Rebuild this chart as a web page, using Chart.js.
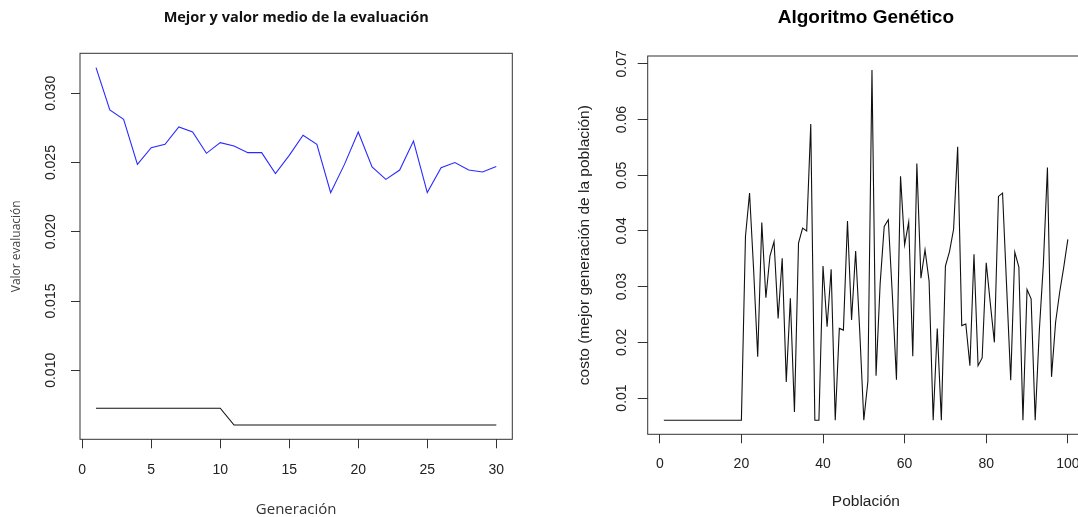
<!DOCTYPE html>
<html><head><meta charset="utf-8">
<script src="https://cdn.jsdelivr.net/npm/chart.js@4.4.0/dist/chart.umd.min.js"></script>
<style>
html,body{margin:0;padding:0;background:#fff;overflow:hidden;width:1078px;height:517px;}
#l{position:absolute;left:0;top:0;}
#r{position:absolute;left:540px;top:0;}
</style></head><body>
<canvas id="l" width="540" height="517"></canvas>
<canvas id="r" width="560" height="517"></canvas>
<script>
// ---- Left chart data ----
const generaciones = [1,2,3,4,5,6,7,8,9,10,11,12,13,14,15,16,17,18,19,20,21,22,23,24,25,26,27,28,29,30];
const valorMedio = [0.03186,0.02880,0.02812,0.02487,0.02608,0.02632,0.02757,0.02721,0.02567,0.02644,
                    0.02620,0.02572,0.02572,0.02420,0.02552,0.02697,0.02632,0.02283,0.02487,0.02721,
                    0.02468,0.02379,0.02446,0.02656,0.02283,0.02463,0.02500,0.02446,0.02432,0.02471];
const mejorValor = [0.00726,0.00726,0.00726,0.00726,0.00726,0.00726,0.00726,0.00726,0.00726,0.00726,
                    0.00605,0.00605,0.00605,0.00605,0.00605,0.00605,0.00605,0.00605,0.00605,0.00605,
                    0.00605,0.00605,0.00605,0.00605,0.00605,0.00605,0.00605,0.00605,0.00605,0.00605];
const ticksGenX = [0,5,10,15,20,25,30];
const ticksGenY = [0.010,0.015,0.020,0.025,0.030];
const ticksGenYLabels = ['0.010','0.015','0.020','0.025','0.030'];

// ---- Right chart data ----
const poblacion = [1,2,3,4,5,6,7,8,9,10,11,12,13,14,15,16,17,18,19,20,
  21,22,23,24,25,26,27,28,29,30,31,32,33,34,35,36,37,38,39,40,
  41,42,43,44,45,46,47,48,49,50,51,52,53,54,55,56,57,58,59,60,
  61,62,63,64,65,66,67,68,69,70,71,72,73,74,75,76,77,78,79,80,
  81,82,83,84,85,86,87,88,89,90,91,92,93,94,95,96,97,98,99,100];
const costoMejor = [
  0.006,0.006,0.006,0.006,0.006,0.006,0.006,0.006,0.006,0.006,
  0.006,0.006,0.006,0.006,0.006,0.006,0.006,0.006,0.006,0.006,
  0.0390,0.0468,0.0330,0.0174,0.0415,0.0280,0.0355,0.0381,0.0243,0.0351,
  0.0129,0.0279,0.0075,0.0378,0.0405,0.0400,0.0592,0.006,0.006,0.0337,
  0.0228,0.0331,0.006,0.0225,0.0222,0.0418,0.0240,0.0364,0.0220,0.006,
  0.0130,0.0689,0.0140,0.0305,0.0408,0.0420,0.0284,0.0133,0.0498,0.0375,
  0.0416,0.0175,0.0521,0.0315,0.0366,0.0310,0.006,0.0225,0.006,0.0337,
  0.0363,0.0403,0.0551,0.0230,0.0233,0.0158,0.0358,0.0158,0.0172,0.0343,
  0.0270,0.0200,0.0462,0.0468,0.0300,0.0132,0.0362,0.0335,0.006,0.0295,
  0.0278,0.006,0.0220,0.0340,0.0514,0.0138,0.0236,0.0290,0.0335,0.0385];
const ticksPobX = [0,20,40,60,80,100];
const ticksPobY = [0.01,0.02,0.03,0.04,0.05,0.06,0.07];
const ticksPobYLabels = ['0.01','0.02','0.03','0.04','0.05','0.06','0.07'];

// R-like 4% axis extension
function ext(arrs){
  const all = [].concat(...arrs);
  const mn = Math.min(...all), mx = Math.max(...all), r = mx - mn;
  return [mn - 0.04*r, mx + 0.04*r];
}

function rPlot(o){
  return {
    id: 'rplot',
    afterDraw(chart){
      const {ctx, chartArea: a} = chart;
      ctx.save();
      ctx.strokeStyle = '#333';
      ctx.lineWidth = 1;
      ctx.strokeRect(a.left, a.top, a.right - a.left, a.bottom - a.top);
      const ys = chart.scales.y;
      ctx.fillStyle = '#222';
      ctx.font = o.font;
      ctx.textAlign = 'center';
      ctx.textBaseline = 'middle';
      o.vals.forEach((v, i) => {
        const py = ys.getPixelForValue(v);
        ctx.save();
        ctx.translate(o.x, py);
        ctx.rotate(-Math.PI/2);
        ctx.fillText(o.labels[i], 0, 0);
        ctx.restore();
      });
      ctx.restore();
    }
  };
}

Chart.defaults.font.family = "'Liberation Sans', Arial, sans-serif";
Chart.defaults.color = '#222';

// ---- Left chart ----
const [gxMin, gxMax] = ext([generaciones]);
const [gyMin, gyMax] = ext([valorMedio, mejorValor]);
new Chart(document.getElementById('l'), {
  type: 'line',
  data: {
    datasets: [
      {label: 'Valor medio', data: generaciones.map((g,i)=>({x:g, y:valorMedio[i]})), borderColor: '#2a2aff', borderWidth: 1.1, pointRadius: 0, tension: 0, fill: false},
      {label: 'Mejor', data: generaciones.map((g,i)=>({x:g, y:mejorValor[i]})), borderColor: '#111', borderWidth: 1.1, pointRadius: 0, tension: 0, fill: false}
    ]
  },
  options: {
    responsive: false, animation: false, devicePixelRatio: 1,
    layout: {padding: {left: 0, right: 27.7, top: 0, bottom: 0}},
    plugins: {
      legend: {display: false}, tooltip: {enabled: false},
      title: {display: true, fullSize: false, text: 'Mejor y valor medio de la evaluación', color: '#111',
        font: {family: "'Open Sans', sans-serif", size: 14.5, weight: 'bold', lineHeight: 1.2},
        padding: {top: 9.3, bottom: 26.6}}
    },
    scales: {
      x: {type: 'linear', min: gxMin, max: gxMax,
        afterBuildTicks: s => { s.ticks = ticksGenX.map(v => ({value: v})); },
        afterFit: s => { s.height = 77.7; },
        ticks: {font: {size: 14}, color: '#222', padding: 13.3, maxRotation: 0, callback: v => String(v)},
        grid: {drawOnChartArea: false, drawTicks: true, tickLength: 9, color: '#333'},
        border: {display: false},
        title: {display: true, text: 'Generación', color: '#333', font: {family: "'Open Sans', sans-serif", size: 15, lineHeight: 1}, padding: {top: 0, bottom: 0}}
      },
      y: {type: 'linear', min: gyMin, max: gyMax,
        afterBuildTicks: s => { s.ticks = ticksGenY.map(v => ({value: v})); },
        afterFit: s => { s.width = 80; },
        ticks: {display: false},
        grid: {drawOnChartArea: false, drawTicks: true, tickLength: 9, color: '#333'},
        border: {display: false},
        title: {display: true, text: 'Valor evaluación', color: '#444', font: {family: "'Open Sans', sans-serif", size: 12, lineHeight: 1}, padding: {top: 11, bottom: 0}}
      }
    }
  },
  plugins: [rPlot({x: 51, vals: ticksGenY, labels: ticksGenYLabels, font: "14px 'Liberation Sans', Arial, sans-serif"})]
});

// ---- Right chart ----
const [pxMin, pxMax] = ext([poblacion]);
const [pyMin, pyMax] = ext([costoMejor]);
new Chart(document.getElementById('r'), {
  type: 'line',
  data: {
    datasets: [
      {label: 'costo', data: poblacion.map((p,i)=>({x:p, y:costoMejor[i]})), borderColor: '#111', borderWidth: 1.1, pointRadius: 0, tension: 0, fill: false}
    ]
  },
  options: {
    responsive: false, animation: false, devicePixelRatio: 1,
    layout: {padding: {left: 0, right: 16, top: 0, bottom: 0}},
    plugins: {
      legend: {display: false}, tooltip: {enabled: false},
      title: {display: true, fullSize: false, text: 'Algoritmo Genético', color: '#000',
        font: {size: 19, weight: 'bold', lineHeight: 1.2},
        padding: {top: 6.6, bottom: 26.6}}
    },
    scales: {
      x: {type: 'linear', min: pxMin, max: pxMax,
        afterBuildTicks: s => { s.ticks = ticksPobX.map(v => ({value: v})); },
        afterFit: s => { s.height = 82.7; },
        ticks: {font: {size: 14}, color: '#222', padding: 12.3, maxRotation: 0, callback: v => String(v)},
        grid: {drawOnChartArea: false, drawTicks: true, tickLength: 9, color: '#333'},
        border: {display: false},
        title: {display: true, text: 'Población', color: '#222', font: {size: 15.5, lineHeight: 1}, padding: {top: 0, bottom: 7.5}}
      },
      y: {type: 'linear', min: pyMin, max: pyMax,
        afterBuildTicks: s => { s.ticks = ticksPobY.map(v => ({value: v})); },
        afterFit: s => { s.width = 107.7; },
        ticks: {display: false},
        grid: {drawOnChartArea: false, drawTicks: true, tickLength: 10, color: '#333'},
        border: {display: false},
        title: {display: true, text: 'costo (mejor generación de la población)', color: '#222', font: {size: 15.5, lineHeight: 1}, padding: {top: 37.2, bottom: 0}}
      }
    }
  },
  plugins: [rPlot({x: 81.7, vals: ticksPobY, labels: ticksPobYLabels, font: "14px 'Liberation Sans', Arial, sans-serif"})]
});
</script>
</body></html>
